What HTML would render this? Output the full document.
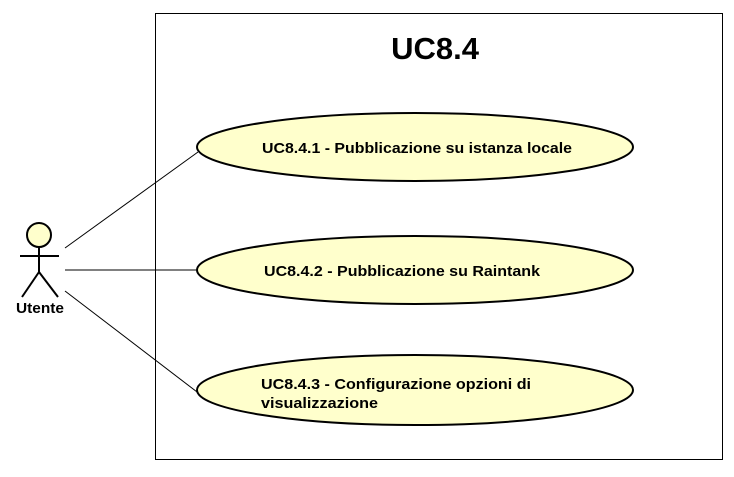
<!DOCTYPE html>
<html><head><style>body{margin:0;background:#fff}</style></head><body>
<svg width="734" height="472" xmlns="http://www.w3.org/2000/svg" font-family="Liberation Sans, Arial, sans-serif">
<rect width="734" height="472" fill="#fff"/>
<rect x="155.5" y="13.5" width="567" height="446" fill="none" stroke="#000" stroke-width="1"/>
<text x="435" y="59" font-size="31" font-weight="bold" text-anchor="middle">UC8.4</text>
<g stroke="#000" stroke-width="1">
<line x1="65" y1="248" x2="198" y2="152"/>
<line x1="65" y1="270" x2="197" y2="270"/>
<line x1="65" y1="291" x2="201" y2="395"/>
</g>
<g fill="#ffffcc" stroke="#000" stroke-width="2">
<ellipse cx="415" cy="147" rx="218" ry="34"/>
<ellipse cx="415" cy="270" rx="218" ry="34"/>
<ellipse cx="415" cy="390" rx="218" ry="35"/>
</g>
<g font-size="15" font-weight="bold">
<text x="262" y="153" textLength="310" lengthAdjust="spacingAndGlyphs">UC8.4.1 - Pubblicazione su istanza locale</text>
<text x="264" y="276" textLength="276" lengthAdjust="spacingAndGlyphs">UC8.4.2 - Pubblicazione su Raintank</text>
<text x="261" y="389" textLength="270" lengthAdjust="spacingAndGlyphs">UC8.4.3 - Configurazione opzioni di</text>
<text x="261" y="408" textLength="117" lengthAdjust="spacingAndGlyphs">visualizzazione</text>
</g>
<g stroke="#000" stroke-width="2" fill="none">
<circle cx="39" cy="235" r="12" fill="#ffffcc"/>
<line x1="39" y1="247" x2="39" y2="272"/>
<line x1="20" y1="256" x2="59" y2="256"/>
<line x1="39" y1="272" x2="22" y2="297"/>
<line x1="39" y1="272" x2="58" y2="297"/>
</g>
<text x="16" y="313" font-size="15" font-weight="bold" textLength="48" lengthAdjust="spacingAndGlyphs">Utente</text>
</svg>
</body></html>
